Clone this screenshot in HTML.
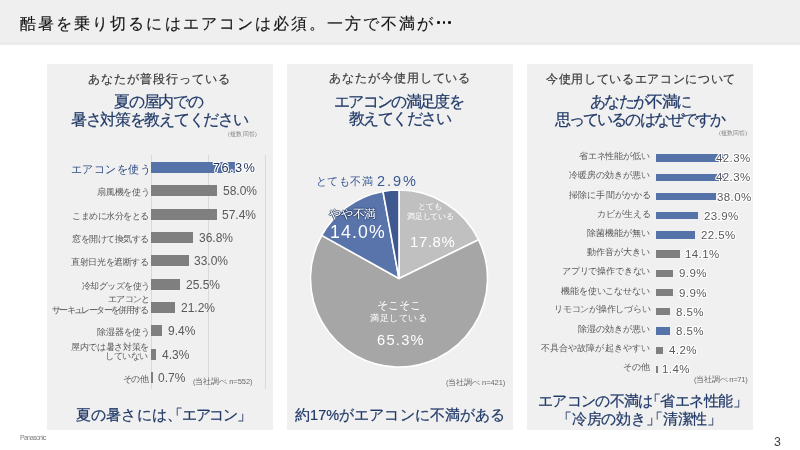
<!DOCTYPE html>
<html lang="ja"><head><meta charset="utf-8"><title>slide</title>
<style>
html,body{margin:0;padding:0;}
body{width:800px;height:450px;position:relative;overflow:hidden;background:#fff;font-family:"Liberation Sans", sans-serif;}
.t{position:absolute;white-space:nowrap;will-change:transform;}
.r{position:absolute;}
</style></head><body>
<div class="r" style="left:0.00px;top:0.00px;width:800.00px;height:44.50px;background:#efefef;"></div>
<div class="r" style="left:0.00px;top:42.00px;width:800.00px;height:2.50px;background:#ebebeb;"></div>
<div class="r" style="left:47.00px;top:64.00px;width:226.00px;height:366.00px;background:#f0f0f0;"></div>
<div class="r" style="left:287.00px;top:64.00px;width:226.00px;height:366.00px;background:#f0f0f0;"></div>
<div class="r" style="left:527.00px;top:64.00px;width:226.00px;height:366.00px;background:#f0f0f0;"></div>
<div class="r" style="left:437.00px;top:21.45px;width:2.6px;height:2.6px;border-radius:50%;background:#111"></div>
<div class="r" style="left:442.70px;top:21.45px;width:2.6px;height:2.6px;border-radius:50%;background:#111"></div>
<div class="r" style="left:448.40px;top:21.45px;width:2.6px;height:2.6px;border-radius:50%;background:#111"></div>
<div class="r" style="left:150.90px;top:155.00px;width:1.00px;height:233.50px;background:#d9d9d9;"></div>
<div class="r" style="left:207.80px;top:155.00px;width:1.00px;height:233.50px;background:#d9d9d9;"></div>
<div class="r" style="left:264.70px;top:155.00px;width:1.00px;height:233.50px;background:#d9d9d9;"></div>
<div class="r" style="left:151.40px;top:162.00px;width:83.80px;height:11.00px;background:#5573a9;"></div>
<div class="r" style="left:151.40px;top:185.35px;width:65.89px;height:11.00px;background:#7f7f7f;"></div>
<div class="r" style="left:151.40px;top:208.70px;width:65.21px;height:11.00px;background:#7f7f7f;"></div>
<div class="r" style="left:151.40px;top:232.05px;width:41.80px;height:11.00px;background:#7f7f7f;"></div>
<div class="r" style="left:151.40px;top:255.40px;width:37.49px;height:11.00px;background:#7f7f7f;"></div>
<div class="r" style="left:151.40px;top:278.75px;width:28.97px;height:11.00px;background:#7f7f7f;"></div>
<div class="r" style="left:151.40px;top:302.10px;width:24.08px;height:11.00px;background:#7f7f7f;"></div>
<div class="r" style="left:151.40px;top:325.45px;width:10.68px;height:11.00px;background:#7f7f7f;"></div>
<div class="r" style="left:151.40px;top:348.80px;width:4.88px;height:11.00px;background:#7f7f7f;"></div>
<div class="r" style="left:151.40px;top:372.15px;width:1.40px;height:11.00px;background:#7f7f7f;"></div>
<div class="r" style="left:655.60px;top:154.40px;width:68.50px;height:7.40px;background:#5573a9;"></div>
<div class="r" style="left:655.60px;top:173.61px;width:68.50px;height:7.40px;background:#5573a9;"></div>
<div class="r" style="left:655.60px;top:192.82px;width:60.60px;height:7.40px;background:#5573a9;"></div>
<div class="r" style="left:655.60px;top:212.03px;width:42.30px;height:7.40px;background:#5573a9;"></div>
<div class="r" style="left:655.60px;top:231.24px;width:39.50px;height:7.40px;background:#5573a9;"></div>
<div class="r" style="left:655.60px;top:250.45px;width:24.40px;height:7.40px;background:#7f7f7f;"></div>
<div class="r" style="left:655.60px;top:269.66px;width:17.30px;height:7.40px;background:#7f7f7f;"></div>
<div class="r" style="left:655.60px;top:288.87px;width:17.30px;height:7.40px;background:#7f7f7f;"></div>
<div class="r" style="left:655.60px;top:308.08px;width:14.60px;height:7.40px;background:#7f7f7f;"></div>
<div class="r" style="left:655.60px;top:327.29px;width:14.60px;height:7.40px;background:#5573a9;"></div>
<div class="r" style="left:655.60px;top:346.50px;width:7.10px;height:7.40px;background:#7f7f7f;"></div>
<div class="r" style="left:655.60px;top:365.71px;width:2.60px;height:7.40px;background:#7f7f7f;"></div>
<svg class="r" style="left:0;top:0" width="800" height="450"><path d="M399,278.5 L399.00,190.00 A88.5,88.5 0 0 1 478.60,239.82 Z" fill="#c0c0c0" stroke="#fff" stroke-width="1.6" stroke-linejoin="round"/><path d="M399,278.5 L478.60,239.82 A88.5,88.5 0 1 1 321.72,235.38 Z" fill="#a6a6a6" stroke="#fff" stroke-width="1.6" stroke-linejoin="round"/><path d="M399,278.5 L321.72,235.38 A88.5,88.5 0 0 1 382.96,191.47 Z" fill="#5874ab" stroke="#fff" stroke-width="1.6" stroke-linejoin="round"/><path d="M399,278.5 L382.96,191.47 A88.5,88.5 0 0 1 399.00,190.00 Z" fill="#3f5990" stroke="#fff" stroke-width="1.6" stroke-linejoin="round"/></svg>
<div class="t" style="left:19.5px;top:16.0px;font-size:16px;line-height:16px;color:#151515;-webkit-text-stroke:0.15px #1a1a1a;letter-spacing:2.068px;">酷暑を乗り切るにはエアコンは必須。一方で不満が</div>
<div class="t" style="left:20.0px;top:433.85px;font-size:7px;line-height:7px;color:#808080;letter-spacing:-0.787px;">Panasonic</div>
<div class="t" style="left:774.2px;top:436.05px;font-size:12.4px;line-height:12.4px;color:#404040;">3</div>
<div class="t" style="left:88.0px;top:72.8px;font-size:12.3px;line-height:12.3px;color:#3a3a3a;-webkit-text-stroke:0.2px #3a3a3a;letter-spacing:1.0px;">あなたが普段行っている</div>
<div class="t" style="left:114.0px;top:94.15px;font-size:15.5px;line-height:15.5px;color:#223a68;-webkit-text-stroke:0.22px #223a68;letter-spacing:-1.24px;">夏の屋内での</div>
<div class="t" style="left:71.0px;top:111.7px;font-size:15.5px;line-height:15.5px;color:#223a68;-webkit-text-stroke:0.22px #223a68;letter-spacing:-1.309px;">暑さ対策を教えてください</div>
<div class="t" style="left:227.8px;top:131.75px;font-size:5.5px;line-height:5.5px;color:#808080;letter-spacing:0.24px;">(複数回答)</div>
<div class="t" style="left:192.8px;top:378.45px;font-size:7.5px;line-height:7.5px;color:#6a6a6a;letter-spacing:-0.055px;">(当社調べ n=552)</div>
<div class="t" style="left:76.2px;top:407.65px;font-size:14.5px;line-height:14.5px;color:#223a68;-webkit-text-stroke:0.22px #223a68;letter-spacing:0.133px;">夏の暑さには、</div>
<div class="t" style="left:167.7px;top:407.65px;font-size:14.5px;line-height:14.5px;color:#223a68;-webkit-text-stroke:0.22px #223a68;letter-spacing:-1.2px;">「エアコン」</div>
<div class="t" style="left:328.8px;top:72.3px;font-size:12.3px;line-height:12.3px;color:#3a3a3a;-webkit-text-stroke:0.2px #3a3a3a;letter-spacing:0.94px;">あなたが今使用している</div>
<div class="t" style="left:334.0px;top:93.65px;font-size:15.5px;line-height:15.5px;color:#223a68;-webkit-text-stroke:0.22px #223a68;letter-spacing:-1.675px;">エアコンの満足度を</div>
<div class="t" style="left:348.6px;top:111.25px;font-size:15.5px;line-height:15.5px;color:#223a68;-webkit-text-stroke:0.22px #223a68;letter-spacing:-1.55px;">教えてください</div>
<div class="t" style="left:315.6px;top:175.55px;font-size:11px;line-height:11px;color:#3b5a94;letter-spacing:0.45px;">とても不満</div>
<div class="t" style="left:377.1px;top:173.6px;font-size:14.5px;line-height:14.5px;color:#3b5a94;letter-spacing:1.933px;">2.9%</div>
<div class="t" style="left:328.9px;top:208.35px;font-size:12px;line-height:12px;color:#ffffff;text-shadow:0.8px 0 0.3px rgba(35,55,95,.75),-0.8px 0 0.3px rgba(35,55,95,.75),0 0.8px 0.3px rgba(35,55,95,.75),0 -0.8px 0.3px rgba(35,55,95,.75);letter-spacing:-0.233px;">やや不満</div>
<div class="t" style="left:330.2px;top:223.95px;font-size:17.7px;line-height:17.7px;color:#ffffff;letter-spacing:1.125px;">14.0%</div>
<div class="t" style="left:417.7px;top:203.0px;font-size:7.7px;line-height:7.7px;color:#ffffff;letter-spacing:0.0px;">とても</div>
<div class="t" style="left:406.7px;top:212.7px;font-size:7.7px;line-height:7.7px;color:#ffffff;letter-spacing:-0.2px;">満足している</div>
<div class="t" style="left:410.3px;top:234.65px;font-size:14.9px;line-height:14.9px;color:#ffffff;letter-spacing:0.6px;">17.8%</div>
<div class="t" style="left:376.6px;top:299.5px;font-size:10.5px;line-height:10.5px;color:#ffffff;letter-spacing:0.033px;">そこそこ</div>
<div class="t" style="left:369.6px;top:314.0px;font-size:9px;line-height:9px;color:#ffffff;letter-spacing:0.6px;">満足している</div>
<div class="t" style="left:376.5px;top:332.75px;font-size:14.7px;line-height:14.7px;color:#ffffff;letter-spacing:1.25px;">65.3%</div>
<div class="t" style="left:446.4px;top:378.8px;font-size:7.5px;line-height:7.5px;color:#6a6a6a;letter-spacing:-0.082px;">(当社調べ n=421)</div>
<div class="t" style="left:294.5px;top:407.55px;font-size:14.5px;line-height:14.5px;color:#223a68;-webkit-text-stroke:0.22px #223a68;letter-spacing:0.064px;">約17%がエアコンに不満がある</div>
<div class="t" style="left:546.2px;top:72.8px;font-size:12.3px;line-height:12.3px;color:#3a3a3a;-webkit-text-stroke:0.2px #3a3a3a;letter-spacing:0.671px;">今使用しているエアコンについて</div>
<div class="t" style="left:589.6px;top:93.65px;font-size:15.5px;line-height:15.5px;color:#223a68;-webkit-text-stroke:0.22px #223a68;letter-spacing:-1.633px;">あなたが不満に</div>
<div class="t" style="left:555.2px;top:111.5px;font-size:15.5px;line-height:15.5px;color:#223a68;-webkit-text-stroke:0.22px #223a68;letter-spacing:-1.909px;">思っているのはなぜですか</div>
<div class="t" style="left:719.0px;top:131.25px;font-size:5.5px;line-height:5.5px;color:#808080;letter-spacing:0.06px;">(複数回答)</div>
<div class="t" style="left:694.0px;top:375.6px;font-size:7.5px;line-height:7.5px;color:#6a6a6a;letter-spacing:-0.22px;">(当社調べ n=71)</div>
<div class="t" style="left:537.9px;top:394.1px;font-size:14.5px;line-height:14.5px;color:#223a68;-webkit-text-stroke:0.22px #223a68;letter-spacing:-0.643px;">エアコンの不満は</div>
<div class="t" style="left:646.4px;top:394.1px;font-size:14.5px;line-height:14.5px;color:#223a68;-webkit-text-stroke:0.22px #223a68;letter-spacing:-0.567px;">「省エネ性能」</div>
<div class="t" style="left:557.1px;top:411.6px;font-size:14.5px;line-height:14.5px;color:#223a68;-webkit-text-stroke:0.22px #223a68;letter-spacing:-0.233px;">「冷房の効き」</div>
<div class="t" style="left:647.8px;top:411.6px;font-size:14.5px;line-height:14.5px;color:#223a68;-webkit-text-stroke:0.22px #223a68;letter-spacing:-0.225px;">「清潔性」</div>
<div class="t" style="left:71.1px;top:163.5px;font-size:11px;line-height:11px;color:#2c4b82;letter-spacing:0.467px;">エアコンを使う</div>
<div class="t" style="left:212.6px;top:162.3px;font-size:12.8px;line-height:12.8px;color:#1f3058;text-shadow:1px 0 0 #fff,-1px 0 0 #fff,0 1px 0 #fff,0 -1px 0 #fff,0.7px 0.7px 0 #fff,-0.7px 0.7px 0 #fff,0.7px -0.7px 0 #fff,-0.7px -0.7px 0 #fff;letter-spacing:1.375px;">76.3%</div>
<div class="t" style="left:97.3px;top:188.25px;font-size:8.6px;line-height:8.6px;color:#595959;letter-spacing:-0.22px;">扇風機を使う</div>
<div class="t" style="left:222.89px;top:185.35px;font-size:12px;line-height:12px;color:#595959;">58.0%</div>
<div class="t" style="left:71.8px;top:211.6px;font-size:8.6px;line-height:8.6px;color:#595959;letter-spacing:-0.45px;">こまめに水分をとる</div>
<div class="t" style="left:222.21px;top:208.7px;font-size:12px;line-height:12px;color:#595959;">57.4%</div>
<div class="t" style="left:71.7px;top:234.95px;font-size:8.6px;line-height:8.6px;color:#595959;letter-spacing:-0.438px;">窓を開けて換気する</div>
<div class="t" style="left:198.8px;top:232.05px;font-size:12px;line-height:12px;color:#595959;">36.8%</div>
<div class="t" style="left:71.2px;top:258.3px;font-size:8.6px;line-height:8.6px;color:#595959;letter-spacing:-0.375px;">直射日光を遮断する</div>
<div class="t" style="left:194.49px;top:255.4px;font-size:12px;line-height:12px;color:#595959;">33.0%</div>
<div class="t" style="left:81.8px;top:281.65px;font-size:8.6px;line-height:8.6px;color:#595959;letter-spacing:-0.514px;">冷却グッズを使う</div>
<div class="t" style="left:185.97px;top:278.75px;font-size:12px;line-height:12px;color:#595959;">25.5%</div>
<div class="t" style="left:108.2px;top:295.1px;font-size:8.6px;line-height:8.6px;color:#595959;letter-spacing:-0.75px;">エアコンと</div>
<div class="t" style="left:51.9px;top:305.6px;font-size:8.6px;line-height:8.6px;color:#595959;letter-spacing:-1.642px;">サーキュレーターを併用する</div>
<div class="t" style="left:181.08px;top:302.1px;font-size:12px;line-height:12px;color:#595959;">21.2%</div>
<div class="t" style="left:97.0px;top:328.35px;font-size:8.6px;line-height:8.6px;color:#595959;letter-spacing:-0.16px;">除湿器を使う</div>
<div class="t" style="left:167.68px;top:325.45px;font-size:12px;line-height:12px;color:#595959;">9.4%</div>
<div class="t" style="left:71.0px;top:342.8px;font-size:8.6px;line-height:8.6px;color:#595959;letter-spacing:-0.35px;">屋内では暑さ対策を</div>
<div class="t" style="left:105.0px;top:352.3px;font-size:8.6px;line-height:8.6px;color:#595959;letter-spacing:-0.45px;">していない</div>
<div class="t" style="left:161.88px;top:348.8px;font-size:12px;line-height:12px;color:#595959;">4.3%</div>
<div class="t" style="left:122.7px;top:374.55px;font-size:8.6px;line-height:8.6px;color:#595959;letter-spacing:-0.75px;">その他</div>
<div class="t" style="left:158.4px;top:372.15px;font-size:12px;line-height:12px;color:#595959;">0.7%</div>
<div class="t" style="left:579.4px;top:152.1px;font-size:9px;line-height:9px;color:#595959;letter-spacing:-0.171px;">省エネ性能が低い</div>
<div class="t" style="left:715.7px;top:153.1px;font-size:11.5px;line-height:11.5px;color:#595959;text-shadow:1px 0 0 #fff,-1px 0 0 #fff,0 1px 0 #fff,0 -1px 0 #fff,0.7px 0.7px 0 #fff,-0.7px 0.7px 0 #fff,0.7px -0.7px 0 #fff,-0.7px -0.7px 0 #fff;letter-spacing:0.4px;">42.3%</div>
<div class="t" style="left:568.75px;top:171.31px;font-size:9px;line-height:9px;color:#595959;letter-spacing:0.056px;">冷暖房の効きが悪い</div>
<div class="t" style="left:715.7px;top:172.31px;font-size:11.5px;line-height:11.5px;color:#595959;text-shadow:1px 0 0 #fff,-1px 0 0 #fff,0 1px 0 #fff,0 -1px 0 #fff,0.7px 0.7px 0 #fff,-0.7px 0.7px 0 #fff,0.7px -0.7px 0 #fff,-0.7px -0.7px 0 #fff;letter-spacing:0.4px;">42.3%</div>
<div class="t" style="left:569.2px;top:190.52px;font-size:9px;line-height:9px;color:#595959;letter-spacing:0.125px;">掃除に手間がかかる</div>
<div class="t" style="left:716.9px;top:191.52px;font-size:11.5px;line-height:11.5px;color:#595959;text-shadow:1px 0 0 #fff,-1px 0 0 #fff,0 1px 0 #fff,0 -1px 0 #fff,0.7px 0.7px 0 #fff,-0.7px 0.7px 0 #fff,0.7px -0.7px 0 #fff,-0.7px -0.7px 0 #fff;letter-spacing:0.4px;">38.0%</div>
<div class="t" style="left:597.3px;top:209.73px;font-size:9px;line-height:9px;color:#595959;letter-spacing:-0.02px;">カビが生える</div>
<div class="t" style="left:703.9px;top:210.73px;font-size:11.5px;line-height:11.5px;color:#595959;text-shadow:1px 0 0 #fff,-1px 0 0 #fff,0 1px 0 #fff,0 -1px 0 #fff,0.7px 0.7px 0 #fff,-0.7px 0.7px 0 #fff,0.7px -0.7px 0 #fff,-0.7px -0.7px 0 #fff;letter-spacing:0.4px;">23.9%</div>
<div class="t" style="left:586.7px;top:228.94px;font-size:9px;line-height:9px;color:#595959;letter-spacing:0.083px;">除菌機能が無い</div>
<div class="t" style="left:701.1px;top:229.94px;font-size:11.5px;line-height:11.5px;color:#595959;text-shadow:1px 0 0 #fff,-1px 0 0 #fff,0 1px 0 #fff,0 -1px 0 #fff,0.7px 0.7px 0 #fff,-0.7px 0.7px 0 #fff,0.7px -0.7px 0 #fff,-0.7px -0.7px 0 #fff;letter-spacing:0.4px;">22.5%</div>
<div class="t" style="left:586.7px;top:248.15px;font-size:9px;line-height:9px;color:#595959;letter-spacing:0.083px;">動作音が大きい</div>
<div class="t" style="left:685.0px;top:249.15px;font-size:11.5px;line-height:11.5px;color:#595959;text-shadow:1px 0 0 #fff,-1px 0 0 #fff,0 1px 0 #fff,0 -1px 0 #fff,0.7px 0.7px 0 #fff,-0.7px 0.7px 0 #fff,0.7px -0.7px 0 #fff,-0.7px -0.7px 0 #fff;letter-spacing:0.4px;">14.1%</div>
<div class="t" style="left:561.7px;top:267.36px;font-size:9px;line-height:9px;color:#595959;letter-spacing:-0.167px;">アプリで操作できない</div>
<div class="t" style="left:678.9px;top:268.36px;font-size:11.5px;line-height:11.5px;color:#595959;text-shadow:1px 0 0 #fff,-1px 0 0 #fff,0 1px 0 #fff,0 -1px 0 #fff,0.7px 0.7px 0 #fff,-0.7px 0.7px 0 #fff,0.7px -0.7px 0 #fff,-0.7px -0.7px 0 #fff;letter-spacing:0.4px;">9.9%</div>
<div class="t" style="left:561.3px;top:286.57px;font-size:9px;line-height:9px;color:#595959;letter-spacing:-0.122px;">機能を使いこなせない</div>
<div class="t" style="left:678.9px;top:287.57px;font-size:11.5px;line-height:11.5px;color:#595959;text-shadow:1px 0 0 #fff,-1px 0 0 #fff,0 1px 0 #fff,0 -1px 0 #fff,0.7px 0.7px 0 #fff,-0.7px 0.7px 0 #fff,0.7px -0.7px 0 #fff,-0.7px -0.7px 0 #fff;letter-spacing:0.4px;">9.9%</div>
<div class="t" style="left:553.5px;top:305.28px;font-size:9px;line-height:9px;color:#595959;letter-spacing:-0.23px;">リモコンが操作しづらい</div>
<div class="t" style="left:676.2px;top:306.78px;font-size:11.5px;line-height:11.5px;color:#595959;text-shadow:1px 0 0 #fff,-1px 0 0 #fff,0 1px 0 #fff,0 -1px 0 #fff,0.7px 0.7px 0 #fff,-0.7px 0.7px 0 #fff,0.7px -0.7px 0 #fff,-0.7px -0.7px 0 #fff;letter-spacing:0.4px;">8.5%</div>
<div class="t" style="left:578.1px;top:324.99px;font-size:9px;line-height:9px;color:#595959;letter-spacing:0.014px;">除湿の効きが悪い</div>
<div class="t" style="left:676.2px;top:325.99px;font-size:11.5px;line-height:11.5px;color:#595959;text-shadow:1px 0 0 #fff,-1px 0 0 #fff,0 1px 0 #fff,0 -1px 0 #fff,0.7px 0.7px 0 #fff,-0.7px 0.7px 0 #fff,0.7px -0.7px 0 #fff,-0.7px -0.7px 0 #fff;letter-spacing:0.4px;">8.5%</div>
<div class="t" style="left:541.3px;top:344.2px;font-size:9px;line-height:9px;color:#595959;letter-spacing:0.082px;">不具合や故障が起きやすい</div>
<div class="t" style="left:668.7px;top:345.2px;font-size:11.5px;line-height:11.5px;color:#595959;text-shadow:1px 0 0 #fff,-1px 0 0 #fff,0 1px 0 #fff,0 -1px 0 #fff,0.7px 0.7px 0 #fff,-0.7px 0.7px 0 #fff,0.7px -0.7px 0 #fff,-0.7px -0.7px 0 #fff;letter-spacing:0.4px;">4.2%</div>
<div class="t" style="left:623.0px;top:362.91px;font-size:9px;line-height:9px;color:#595959;letter-spacing:0.1px;">その他</div>
<div class="t" style="left:662.2px;top:364.41px;font-size:11.5px;line-height:11.5px;color:#595959;text-shadow:1px 0 0 #fff,-1px 0 0 #fff,0 1px 0 #fff,0 -1px 0 #fff,0.7px 0.7px 0 #fff,-0.7px 0.7px 0 #fff,0.7px -0.7px 0 #fff,-0.7px -0.7px 0 #fff;letter-spacing:0.4px;">1.4%</div>
</body></html>
